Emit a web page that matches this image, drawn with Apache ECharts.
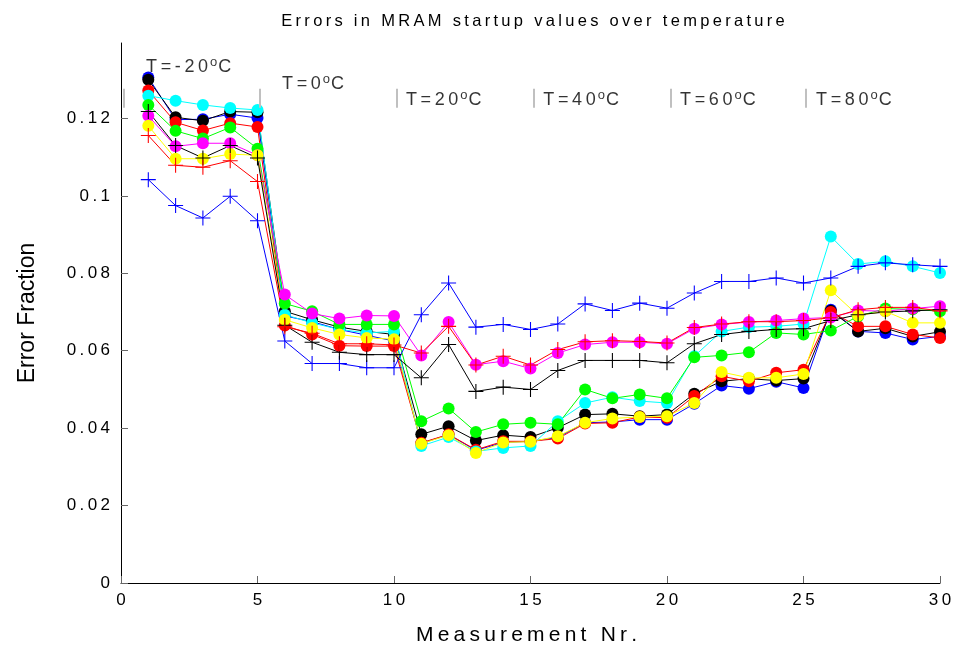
<!DOCTYPE html>
<html>
<head>
<meta charset="utf-8">
<script src="https://cdn.jsdelivr.net/npm/echarts@6/dist/echarts.min.js"></script>
<style>
    html, body { margin: 0; padding: 0; background: #fff; }
    #chart { width: 956px; height: 645px; }
</style>
</head>
<body>
<div id="chart"></div>
<script>
// measurement numbers 1..30
var xs = [1, 2, 3, 4, 5, 6, 7, 8, 9, 10, 11, 12, 13, 14, 15, 16, 17, 18, 19, 20, 21, 22, 23, 24, 25, 26, 27, 28, 29, 30];

// circle-marker series
var blueDot = [0.1306, 0.1197, 0.1198, 0.1211, 0.1201, 0.0690, 0.0675, 0.0655, 0.0640, 0.0625,
    0.0361, 0.0383, 0.0343, 0.0363, 0.0366, 0.0376, 0.0414, 0.0416, 0.0422, 0.0422,
    0.0463, 0.0510, 0.0502, 0.0520, 0.0504, 0.0706, 0.0650, 0.0646, 0.0629, 0.0637];
var blackDot = [0.1300, 0.1203, 0.1194, 0.1218, 0.1216, 0.0702, 0.0680, 0.0661, 0.0650, 0.0642,
    0.0384, 0.0405, 0.0368, 0.0382, 0.0377, 0.0401, 0.0435, 0.0437, 0.0431, 0.0435,
    0.0489, 0.0521, 0.0528, 0.0523, 0.0528, 0.0703, 0.0650, 0.0658, 0.0637, 0.0649];
var redDot = [0.1272, 0.1190, 0.1169, 0.1188, 0.1178, 0.0665, 0.0642, 0.0613, 0.0612, 0.0612,
    0.0362, 0.0384, 0.0344, 0.0366, 0.0366, 0.0373, 0.0412, 0.0414, 0.0429, 0.0427,
    0.0483, 0.0534, 0.0521, 0.0543, 0.0551, 0.0700, 0.0663, 0.0663, 0.0642, 0.0633];
var cyanDot = [0.1259, 0.1246, 0.1235, 0.1227, 0.1222, 0.0693, 0.0672, 0.0655, 0.0646, 0.0650,
    0.0354, 0.0377, 0.0340, 0.0349, 0.0354, 0.0418, 0.0465, 0.0480, 0.0470, 0.0465,
    0.0586, 0.0650, 0.0661, 0.0663, 0.0669, 0.0895, 0.0824, 0.0831, 0.0818, 0.0801];
var greenDot = [0.1235, 0.1168, 0.1148, 0.1177, 0.1122, 0.0722, 0.0702, 0.0668, 0.0668, 0.0668,
    0.0418, 0.0451, 0.0390, 0.0410, 0.0414, 0.0410, 0.0500, 0.0477, 0.0487, 0.0477,
    0.0583, 0.0588, 0.0596, 0.0646, 0.0642, 0.0652, 0.0689, 0.0709, 0.0707, 0.0702];
var magentaDot = [0.1207, 0.1128, 0.1136, 0.1136, 0.1105, 0.0745, 0.0696, 0.0683, 0.0691, 0.0690,
    0.0588, 0.0674, 0.0564, 0.0573, 0.0554, 0.0594, 0.0616, 0.0622, 0.0622, 0.0618,
    0.0657, 0.0668, 0.0674, 0.0678, 0.0683, 0.0686, 0.0704, 0.0702, 0.0709, 0.0715];
var yellowDot = [0.1181, 0.1096, 0.1096, 0.1108, 0.1105, 0.0680, 0.0659, 0.0642, 0.0633, 0.0630,
    0.0360, 0.0382, 0.0336, 0.0363, 0.0365, 0.0379, 0.0414, 0.0425, 0.0429, 0.0431,
    0.0465, 0.0545, 0.0530, 0.0530, 0.0540, 0.0756, 0.0691, 0.0702, 0.0672, 0.0672];

// plus-marker series
var blackPlus = [0.1218, 0.1130, 0.1098, 0.1130, 0.1098, 0.0666, 0.0622, 0.0596, 0.0590, 0.0590,
    0.0530, 0.0616, 0.0495, 0.0506, 0.0500, 0.0549, 0.0575, 0.0575, 0.0575, 0.0569,
    0.0618, 0.0642, 0.0650, 0.0655, 0.0657, 0.0678, 0.0693, 0.0700, 0.0703, 0.0706];
var redPlus = [0.1156, 0.1079, 0.1074, 0.1091, 0.1037, 0.0662, 0.0645, 0.0618, 0.0618, 0.0615,
    0.0594, 0.0663, 0.0563, 0.0586, 0.0563, 0.0603, 0.0623, 0.0626, 0.0624, 0.0620,
    0.0660, 0.0669, 0.0675, 0.0675, 0.0678, 0.0685, 0.0706, 0.0712, 0.0712, 0.0703];
var bluePlus = [0.1042, 0.0975, 0.0943, 0.0999, 0.0936, 0.0625, 0.0567, 0.0567, 0.0556, 0.0556,
    0.0693, 0.0775, 0.0661, 0.0668, 0.0655, 0.0669, 0.0721, 0.0704, 0.0723, 0.0710,
    0.0749, 0.0779, 0.0779, 0.0788, 0.0775, 0.0788, 0.0818, 0.0827, 0.0822, 0.0818];

// temperature block separators and labels
var sepX = [0.1, 5.08, 10.1, 15.12, 20.12, 25.1, 30.05];
var sepY = [0.1228, 0.1277];
var tempNames = ['-20', '0', '20', '40', '60', '80'];
var tempX = [0.92, 5.9, 10.44, 15.47, 20.48, 25.46];
var tempY = [0.1334, 0.1290, 0.1247, 0.1247, 0.1247, 0.1247];

var yTicks = [0, 0.02, 0.04, 0.06, 0.08, 0.1, 0.12];

function spaced(s) {
    return s.split('').join('\u2009');
}
function pairs(vals) {
    return vals.map(function (v, i) { return [xs[i], v]; });
}

var plusPath = 'path://M6.5,0H7.5V6.5H14V7.5H7.5V14H6.5V7.5H0V6.5H6.5Z';

var dotSeries = [
    ['#0000ff', blueDot],
    ['#000000', blackDot],
    ['#ff0000', redDot],
    ['#00ffff', cyanDot],
    ['#00ff00', greenDot],
    ['#ff00ff', magentaDot],
    ['#ffff00', yellowDot]
];
var plusSeries = [
    ['#0000ff', bluePlus],
    ['#000000', blackPlus],
    ['#ff0000', redPlus]
];

var series = [];
dotSeries.forEach(function (d) {
    series.push({
        type: 'line',
        data: pairs(d[1]),
        symbol: 'circle',
        symbolSize: 12,
        showAllSymbol: true,
        itemStyle: { color: d[0] },
        lineStyle: { color: d[0], width: 1 },
        emphasis: { disabled: true }
    });
});
plusSeries.forEach(function (d) {
    series.push({
        type: 'line',
        data: pairs(d[1]),
        symbol: plusPath,
        symbolSize: 15,
        showAllSymbol: true,
        itemStyle: { color: d[0] },
        lineStyle: { color: d[0], width: 1 },
        emphasis: { disabled: true }
    });
});

// gray separators
series.push({
    type: 'line',
    data: [],
    clip: false,
    markLine: {
        silent: true,
        symbol: ['none', 'none'],
        label: { show: false },
        lineStyle: { color: '#c0c0c0', width: 2, type: 'solid' },
        data: sepX.map(function (x) {
            return [{ coord: [x, sepY[0]] }, { coord: [x, sepY[1]] }];
        })
    }
});

// temperature labels
series.push({
    type: 'scatter',
    symbolSize: 0,
    silent: true,
    data: tempNames.map(function (t, i) { return [tempX[i], tempY[i], t]; }),
    label: {
        show: true,
        position: 'right',
        distance: 0,
        color: '#000',
        fontFamily: 'Liberation Sans',
        formatter: function (p) {
            return '{n|' + spaced('T=' + p.data[2]) + '}{s|o}{n|C}';
        },
        rich: {
            n: { fontSize: 18, fontFamily: 'Liberation Sans', color: '#000', lineHeight: 22 },
            s: { fontSize: 13, fontFamily: 'Liberation Sans', color: '#000', verticalAlign: 'top', lineHeight: 11, padding: [0, 1, 0, 2] }
        }
    }
});

var chart = echarts.init(document.getElementById('chart'), null, { renderer: 'canvas' });
chart.setOption({
    animation: false,
    backgroundColor: '#ffffff',
    title: {
        text: spaced('Errors in MRAM startup values over temperature'),
        left: 528,
        top: 8,
        textAlign: 'center',
        textStyle: { fontFamily: 'Liberation Sans', fontSize: 16.5, fontWeight: 'normal', color: '#000' }
    },
    grid: { left: 121, right: 16, top: 43, bottom: 62, outerBoundsMode: 'none', containLabel: false },
    xAxis: {
        type: 'value',
        min: 0,
        max: 30,
        interval: 5,
        name: spaced('Measurement Nr.'),
        nameLocation: 'middle',
        nameGap: 42,
        nameTextStyle: { fontFamily: 'Liberation Sans', fontSize: 21, color: '#000', padding: [0, 8, 0, 0] },
        splitLine: { show: false },
        axisLine: { onZero: false, lineStyle: { color: '#000', width: 1 } },
        axisTick: { inside: true, length: 7, lineStyle: { color: '#666' } },
        axisLabel: {
            margin: 9,
            fontFamily: 'Liberation Sans',
            fontSize: 17,
            color: '#000',
            formatter: function (v) { return spaced(String(v)); }
        }
    },
    yAxis: {
        type: 'value',
        min: 0,
        max: 0.1395,
        interval: 0.02,
        name: 'Error Fraction',
        nameLocation: 'middle',
        nameGap: 82,
        nameTextStyle: { fontFamily: 'Liberation Sans', fontSize: 23, color: '#000' },
        splitLine: { show: false },
        axisLine: { show: true, onZero: false, lineStyle: { color: '#000', width: 1 } },
        axisTick: { show: true, inside: true, length: 7, customValues: yTicks, lineStyle: { color: '#666' } },
        axisLabel: {
            margin: 11,
            fontFamily: 'Liberation Sans',
            fontSize: 17,
            color: '#000',
            customValues: yTicks,
            formatter: function (v) { return spaced(String(+v.toFixed(2))); }
        }
    },
    series: series
});
</script>
</body>
</html>
